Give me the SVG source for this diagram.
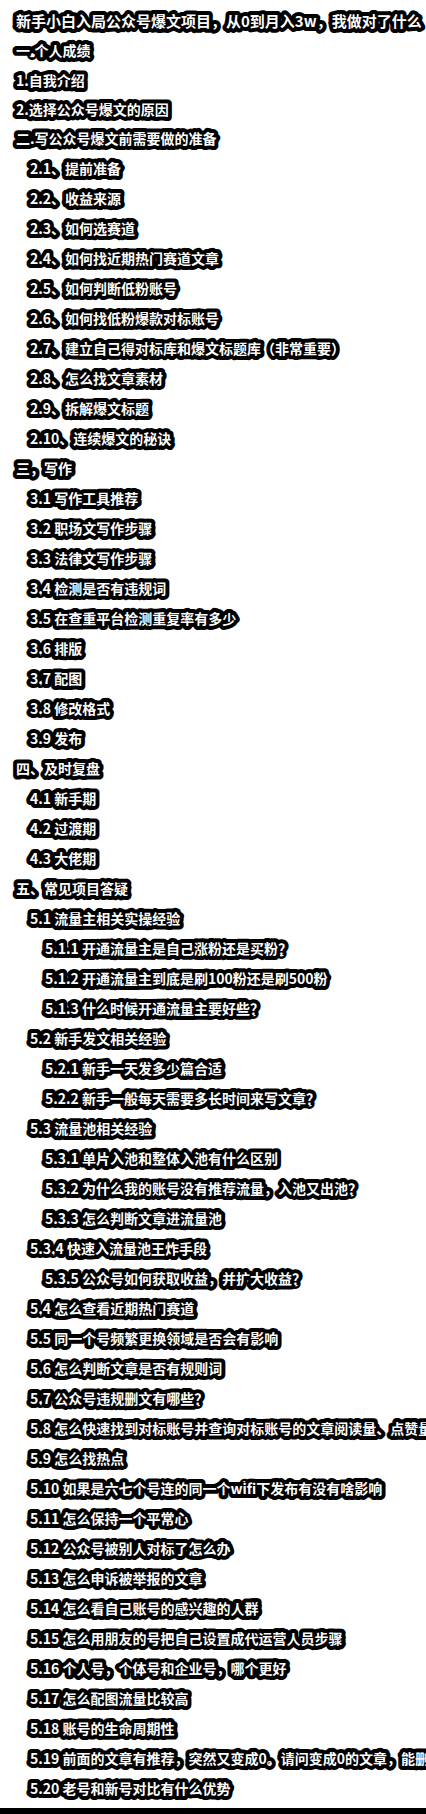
<svg xmlns="http://www.w3.org/2000/svg" width="426" height="1814" viewBox="0 0 426 1814">
<style>
text{font-family:"Noto Sans CJK SC","Noto Sans",sans-serif;font-weight:bold;font-size:14px;fill:#fff;stroke:#000;stroke-width:8;stroke-linejoin:round;paint-order:stroke fill;}
.t{font-size:15px;}
</style>
<rect width="426" height="1814" fill="#fff"/>
<g id="title"><text class="t" x="16" y="26.5">新手小白入局公众号爆文项目，从0到月入3w，我做对了什么</text></g>
<g id="s1"><text x="16" y="56">一.个人成绩</text></g>
<g id="s1-1"><text x="16" y="86">1.自我介绍</text></g>
<g id="s1-2"><text x="16" y="115">2.选择公众号爆文的原因</text></g>
<g id="s2"><text x="16" y="144">二.写公众号爆文前需要做的准备</text></g>
<g id="s2-1"><text x="30" y="174">2.1、提前准备</text></g>
<g id="s2-2"><text x="30" y="204">2.2、收益来源</text></g>
<g id="s2-3"><text x="30" y="234">2.3、如何选赛道</text></g>
<g id="s2-4"><text x="30" y="264">2.4、如何找近期热门赛道文章</text></g>
<g id="s2-5"><text x="30" y="294">2.5、如何判断低粉账号</text></g>
<g id="s2-6"><text x="30" y="324">2.6、如何找低粉爆款对标账号</text></g>
<g id="s2-7"><text x="30" y="354">2.7、建立自己得对标库和爆文标题库（非常重要）</text></g>
<g id="s2-8"><text x="30" y="384">2.8、怎么找文章素材</text></g>
<g id="s2-9"><text x="30" y="414">2.9、拆解爆文标题</text></g>
<g id="s2-10"><text x="30" y="444">2.10、连续爆文的秘诀</text></g>
<g id="s3"><text x="16" y="474">三，写作</text></g>
<g id="s3-1"><text x="30" y="504">3.1 写作工具推荐</text></g>
<g id="s3-2"><text x="30" y="534">3.2 职场文写作步骤</text></g>
<g id="s3-3"><text x="30" y="564">3.3 法律文写作步骤</text></g>
<g id="s3-4"><text x="30" y="594">3.4 检测是否有违规词</text></g>
<g id="s3-5"><text x="30" y="624">3.5 在查重平台检测重复率有多少</text></g>
<g id="s3-6"><text x="30" y="654">3.6 排版</text></g>
<g id="s3-7"><text x="30" y="684">3.7 配图</text></g>
<g id="s3-8"><text x="30" y="714">3.8 修改格式</text></g>
<g id="s3-9"><text x="30" y="744">3.9 发布</text></g>
<g id="s4"><text x="16" y="774">四、及时复盘</text></g>
<g id="s4-1"><text x="30" y="804">4.1 新手期</text></g>
<g id="s4-2"><text x="30" y="834">4.2 过渡期</text></g>
<g id="s4-3"><text x="30" y="864">4.3 大佬期</text></g>
<g id="s5"><text x="16" y="894">五、常见项目答疑</text></g>
<g id="s5-1"><text x="30" y="924">5.1 流量主相关实操经验</text></g>
<g id="s5-1-1"><text x="45" y="954">5.1.1 开通流量主是自己涨粉还是买粉？</text></g>
<g id="s5-1-2"><text x="45" y="984">5.1.2 开通流量主到底是刷100粉还是刷500粉</text></g>
<g id="s5-1-3"><text x="45" y="1014">5.1.3 什么时候开通流量主要好些？</text></g>
<g id="s5-2"><text x="30" y="1044">5.2 新手发文相关经验</text></g>
<g id="s5-2-1"><text x="45" y="1074">5.2.1 新手一天发多少篇合适</text></g>
<g id="s5-2-2"><text x="45" y="1104">5.2.2 新手一般每天需要多长时间来写文章？</text></g>
<g id="s5-3"><text x="30" y="1134">5.3 流量池相关经验</text></g>
<g id="s5-3-1"><text x="45" y="1164">5.3.1 单片入池和整体入池有什么区别</text></g>
<g id="s5-3-2"><text x="45" y="1194">5.3.2 为什么我的账号没有推荐流量，入池又出池？</text></g>
<g id="s5-3-3"><text x="45" y="1224">5.3.3 怎么判断文章进流量池</text></g>
<g id="s5-3-4"><text x="30" y="1254">5.3.4 快速入流量池王炸手段</text></g>
<g id="s5-3-5"><text x="45" y="1284">5.3.5 公众号如何获取收益，并扩大收益？</text></g>
<g id="s5-4"><text x="30" y="1314">5.4 怎么查看近期热门赛道</text></g>
<g id="s5-5"><text x="30" y="1344">5.5 同一个号频繁更换领域是否会有影响</text></g>
<g id="s5-6"><text x="30" y="1374">5.6 怎么判断文章是否有规则词</text></g>
<g id="s5-7"><text x="30" y="1404">5.7 公众号违规删文有哪些？</text></g>
<g id="s5-8"><text x="30" y="1434">5.8 怎么快速找到对标账号并查询对标账号的文章阅读量、点赞量</text></g>
<g id="s5-9"><text x="30" y="1464">5.9 怎么找热点</text></g>
<g id="s5-10"><text x="30" y="1494">5.10 如果是六七个号连的同一个wifi下发布有没有啥影响</text></g>
<g id="s5-11"><text x="30" y="1524">5.11 怎么保持一个平常心</text></g>
<g id="s5-12"><text x="30" y="1554">5.12 公众号被别人对标了怎么办</text></g>
<g id="s5-13"><text x="30" y="1584">5.13 怎么申诉被举报的文章</text></g>
<g id="s5-14"><text x="30" y="1614">5.14 怎么看自己账号的感兴趣的人群</text></g>
<g id="s5-15"><text x="30" y="1644">5.15 怎么用朋友的号把自己设置成代运营人员步骤</text></g>
<g id="s5-16"><text x="30" y="1674">5.16 个人号，个体号和企业号，哪个更好</text></g>
<g id="s5-17"><text x="30" y="1704">5.17 怎么配图流量比较高</text></g>
<g id="s5-18"><text x="30" y="1734">5.18 账号的生命周期性</text></g>
<g id="s5-19"><text x="30" y="1764">5.19 前面的文章有推荐，突然又变成0。请问变成0的文章，能删</text></g>
<g id="s5-20"><text x="30" y="1794">5.20 老号和新号对比有什么优势</text></g>
<g id="connectors"></g>
<rect id="bottom-bar" x="0" y="1808" width="426" height="6" fill="#000"/>
</svg>
